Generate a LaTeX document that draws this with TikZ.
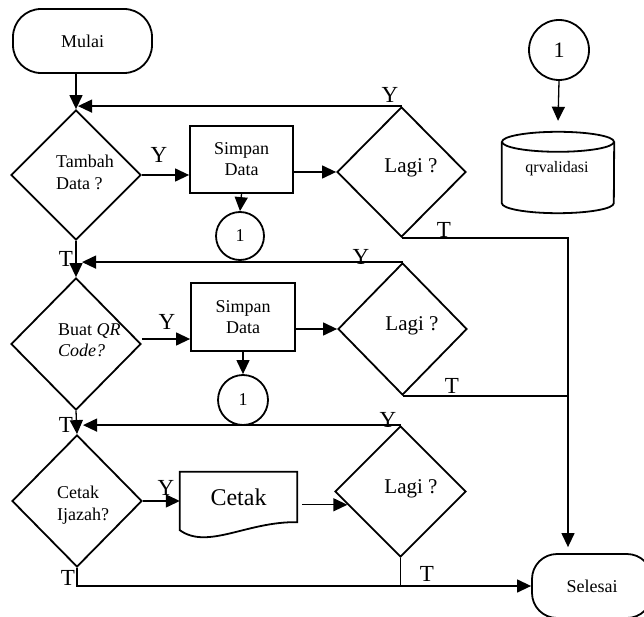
\documentclass[tikz,border=0pt]{standalone}
\usepackage{fontspec}
\setmainfont{Liberation Serif}
\usetikzlibrary{arrows.meta,shapes.geometric,calc}
\begin{document}
\begin{tikzpicture}[x=1pt,y=-1pt,
  shp/.style={draw, line width=1.8pt},
  ln/.style={line width=1.3pt},
  arr/.style={ln, -{Triangle[length=14pt,width=13pt]}},
  dia/.style={shp, diamond, aspect=1, inner sep=0pt},
  boxn/.style={shp, rectangle, align=center, inner sep=0pt, font=\fontsize{18pt}{21pt}\selectfont},
  circ/.style={shp, circle, inner sep=0pt},
  term/.style={shp, rectangle, rounded corners=28pt, inner sep=0pt, font=\fontsize{18pt}{21pt}\selectfont},
  txt/.style={inner sep=0pt, font=\fontsize{18pt}{21.5pt}\selectfont},
  big/.style={inner sep=0pt, font=\fontsize{21pt}{24pt}\selectfont},
  lbl/.style={inner sep=0pt, font=\fontsize{23pt}{26pt}\selectfont}]
\useasboundingbox (0,0) rectangle (644,617);
\fill[white] (0,0) rectangle (644,617);
\clip (0,0) rectangle (644,617);

% terminators
\node[term, minimum width=139pt, minimum height=64pt] (mulai) at (82.5,41) {Mulai};
\node[term, rounded corners=25pt, minimum width=120pt, minimum height=64pt] (sel) at (592,586) {Selesai};

% row 1
\node[dia, minimum width=130pt, minimum height=130pt] (d1) at (76,175) {};
\node[txt, anchor=west, align=left] (d1t) at (56,172.5) {Tambah\\Data ?};
\node[boxn, minimum width=103pt, minimum height=67pt] (b1) at (241.5,159.5) {Simpan\\Data};
\node[dia, minimum width=129pt, minimum height=130pt] (l1) at (401.5,172) {};
\node[big] (l1t) at (411,167.5) {Lagi ?};
\node[circ, minimum size=48pt, font=\fontsize{18pt}{20pt}\selectfont] (c1) at (240,236) {1};

% top right
\node[circ, minimum size=60pt, font=\fontsize{22pt}{24pt}\selectfont] (c0) at (559,50) {1};
\node[minimum width=112pt, minimum height=81pt, inner sep=0pt] (db) at (558,172.5) {};
\draw[shp] ($(db.north west)+(0,10)$) -- ($(db.south west)+(0,-10)$)
   arc[start angle=180, end angle=360, x radius=56pt, y radius=10pt]
   -- ($(db.north east)+(0,10)$);
\draw[shp] ($(db.north)+(0,10)$) ellipse [x radius=56pt, y radius=10pt];
\node[inner sep=0pt, font=\fontsize{16pt}{18pt}\selectfont] (dbt) at (557,169) {qrvalidasi};

% row 2
\node[dia, minimum width=130pt, minimum height=132pt] (d2) at (76,344) {};
\node[txt, anchor=west, align=left] (d2t) at (58,340) {Buat \textit{QR}\\\textit{Code?}};
\node[boxn, minimum width=104pt, minimum height=68pt] (b2) at (243,317) {Simpan\\Data};
\node[dia, minimum width=129pt, minimum height=132pt] (l2) at (402.5,329) {};
\node[big] (l2t) at (412,326) {Lagi ?};
\node[circ, minimum size=50pt, font=\fontsize{18pt}{20pt}\selectfont] (c2) at (243,400) {1};

% row 3
\node[dia, minimum width=130pt, minimum height=132pt] (d3) at (77,501) {};
\node[txt, anchor=west, align=left] (d3t) at (57,505) {Cetak\\Ijazah?};
\node[inner sep=0pt, minimum width=117pt, minimum height=50pt, font=\fontsize{24pt}{26pt}\selectfont] (doc) at (238.5,497) {Cetak};
\draw[shp] (doc.north west) -- (doc.north east) -- (doc.south east)
   .. controls ($(doc.south east)+(-50,-1)$) and ($(doc.south west)+(28,28)$) ..
   ($(doc.south west)+(0,8)$) -- cycle;
\node[dia, minimum width=131pt, minimum height=131pt] (l3) at (400.5,491.5) {};
\node[big] (l3t) at (411,488.5) {Lagi ?};

% connectors
\coordinate (rx) at (568,0);
\coordinate (l3in) at ($(l3.west)!0.2!(l3.south)$);
\draw[arr] (mulai.south -| d1.north) -- (d1.north);
\draw[arr] (l1.north) -- ($(l1.north -| d1.north)+(2,0)$);
\draw[arr] (d1.east) -- (d1.east -| b1.west);
\draw[arr] (b1.east |- l1.west) -- (l1.west);
\draw[arr] (b1.south) -- (c1.north);
\draw[arr] (d1.south) -- (d2.north);
\draw[arr] (l2.north) -- ($(l2.north -| d2.north)+(6,0)$);
\draw[arr] ($(d2.east)+(0,-5)$) -- ($(d2.east -| b2.west)+(0,-5)$);
\draw[arr] (b2.east |- l2.west) -- (l2.west);
\draw[arr] (b2.south) -- (c2.north);
\draw[arr] (d2.south) -- (d3.north);
\draw[arr] (l3.north) -- ($(l3.north -| d3.north)+(6,0)$);
\draw[arr] (d3.east) -- (d3.east -| doc.west);
\draw[arr] ($(doc.east |- l3in)+(5,0)$) -- (l3in);
\draw[arr] (l1.south) -- (l1.south -| rx) -- ($(rx |- sel.north)+(0,-6)$);
\draw[ln] (l2.south) -- (l2.south -| rx);
\draw[arr] (d3.south) -- (d3.south |- sel.west) -- (sel.west);
\draw[ln] (l3.south) -- (l3.south |- sel.west);
\draw[arr] (c0.south) -- ($(db.north)+(0,-11)$);

% labels
\node[lbl] (y1) at (159,155) {Y};
\node[lbl] (y2) at (390,95) {Y};
\node[lbl] (t1) at (444,230) {T};
\node[lbl] (t2) at (66,259) {T};
\node[lbl] (y3) at (167,322) {Y};
\node[lbl] (y4) at (361,257) {Y};
\node[lbl] (t3) at (452,386) {T};
\node[lbl] (t4) at (66,425) {T};
\node[lbl] (y5) at (166,488) {Y};
\node[lbl] (y6) at (388,420) {Y};
\node[lbl] (t5) at (68,578) {T};
\node[lbl] (t6) at (427,574) {T};
\end{tikzpicture}
\end{document}
